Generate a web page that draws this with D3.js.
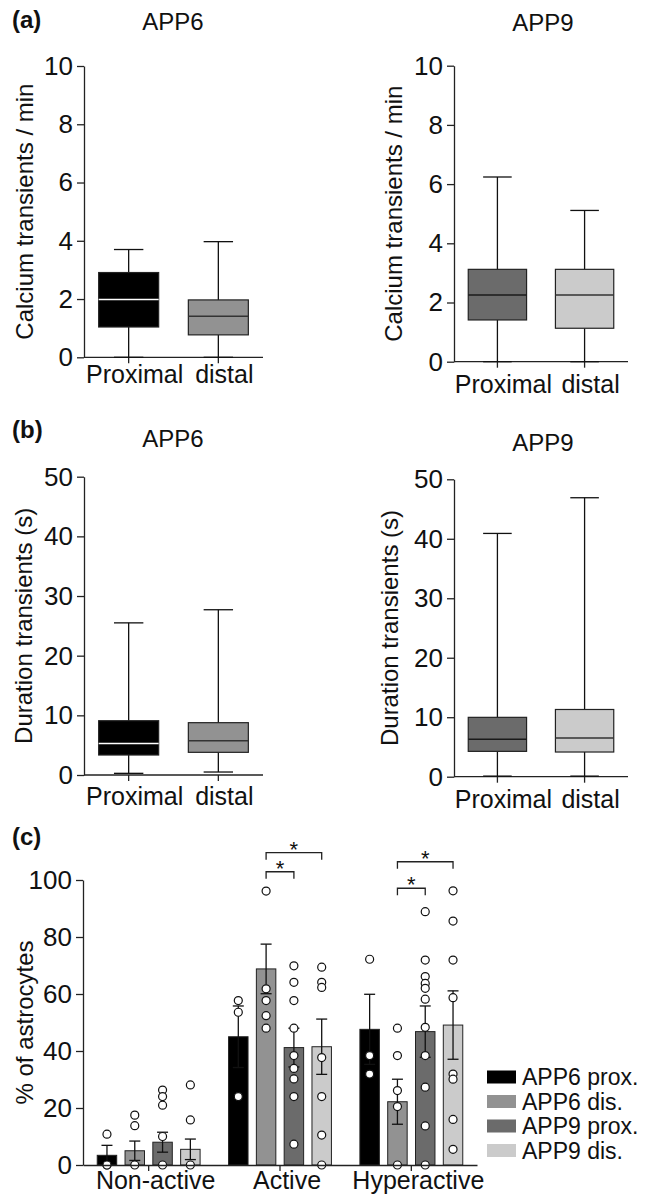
<!DOCTYPE html>
<html><head><meta charset="utf-8">
<script src="https://cdn.jsdelivr.net/npm/d3@7"></script>
<style>
body{margin:0;background:#fff;}
svg{display:block;font-family:"Liberation Sans",Arial,Helvetica,sans-serif;}
</style></head><body>
<svg id="chart" width="649" height="1196"></svg>
<script>
// ---------- DATA ----------
const boxCategories = ["Proximal", "distal"];
// five-number summaries: [min, q1, median, q3, max]
const calciumAPP6 = [[0, 1.04, 1.98, 2.91, 3.70], [0, 0.77, 1.41, 1.97, 3.97]];
const calciumAPP9 = [[0, 1.41, 2.25, 3.12, 6.24], [0, 1.13, 2.25, 3.12, 5.11]];
const durationAPP6 = [[0.28, 3.35, 5.3, 9.1, 25.5], [0.5, 3.8, 5.75, 8.77, 27.7]];
const durationAPP9 = [[0.1, 4.26, 6.28, 9.98, 40.9], [0.1, 4.15, 6.5, 11.3, 46.9]];
const calciumTicks = [0, 2, 4, 6, 8, 10];
const durationTicks = [0, 10, 20, 30, 40, 50];
const percentTicks = [0, 20, 40, 60, 80, 100];

const activityCategories = ["Non-active", "Active", "Hyperactive"];
const groups = ["APP6 prox.", "APP6 dis.", "APP9 prox.", "APP9 dis."];
const meanAPP6prox = [3.4, 45.0, 47.6];
const meanAPP6dis = [5.0, 68.8, 22.2];
const meanAPP9prox = [8.0, 41.2, 46.8];
const meanAPP9dis = [5.5, 41.5, 49.1];
const semAPP6prox = [3.5, 10.8, 12.3];
const semAPP6dis = [3.4, 8.7, 7.9];
const semAPP9prox = [3.5, 6.8, 9.0];
const semAPP9dis = [3.6, 9.7, 12.0];
const ptsAPP6prox = [[10.8, 0, 0], [57.7, 53.6, 24.0], [72.2, 38.4, 31.9]];
const ptsAPP6dis = [[17.5, 13.8, 0], [96.1, 61.8, 57.7, 52.4, 48.0], [48.0, 38.4, 26.1, 20.5, 0]];
const ptsAPP9prox = [[26.3, 24.0, 21.0, 10.0, 0], [69.9, 64.1, 57.7, 48.0, 38.4, 33.9, 30.2, 24.0, 7.3],
  [88.9, 71.9, 66.1, 63.7, 62.0, 58.2, 48.3, 38.4, 27.3, 13.7, 0]];
const ptsAPP9dis = [[28.1, 15.8, 0], [69.4, 64.1, 62.3, 37.7, 24.0, 10.5, 0],
  [96.2, 85.6, 71.9, 58.7, 31.9, 30.1, 16.0, 5.5]];
// significance brackets: category, from group, to group, height (% units)
const sigCats = ["Active", "Active", "Hyperactive", "Hyperactive"];
const sigFrom = ["APP6 dis.", "APP6 dis.", "APP6 dis.", "APP6 dis."];
const sigTo = ["APP9 dis.", "APP9 prox.", "APP9 dis.", "APP9 prox."];
const sigLevel = [109.6, 102.9, 106.4, 97.1];

// ---------- STYLE ----------
const FONT_TICK = 26, FONT_LAB = 24, FONT_XL = 25;
const AX = "#222";
const groupFill = {"APP6 prox.": "#000000", "APP6 dis.": "#929292", "APP9 prox.": "#6b6b6b", "APP9 dis.": "#cbcbcb"};

const svg = d3.select("#chart");

function styleAxis(g) {
  g.selectAll("path.domain").attr("stroke", AX).attr("stroke-width", 1.3);
  g.selectAll(".tick line").attr("stroke", AX).attr("stroke-width", 1.3);
  g.selectAll(".tick text").attr("fill", "#111").attr("font-size", FONT_TICK)
    .attr("font-family", '"Liberation Sans",Arial,sans-serif');
}

function boxPanel(cfg) {
  const g = svg.append("g");
  const x = d3.scaleBand().domain(boxCategories).range([cfg.x0, cfg.x1])
    .paddingInner(0.331).paddingOuter(0.1635);
  const y = d3.scaleLinear().domain([0, cfg.ticks[cfg.ticks.length - 1]]).range([cfg.yBot, cfg.yTop]);

  const ya = g.append("g").attr("transform", `translate(${cfg.x0},0)`)
    .call(d3.axisLeft(y).tickValues(cfg.ticks).tickSize(7).tickPadding(4).tickSizeOuter(0));
  styleAxis(ya);
  const xa = g.append("g").attr("transform", `translate(0,${cfg.yBot})`)
    .call(d3.axisBottom(x).tickSize(6).tickSizeOuter(0));
  styleAxis(xa);
  xa.select("path.domain").attr("d", `M${cfg.x0},0H${cfg.x1}`);
  xa.selectAll(".tick text").attr("font-size", FONT_XL).attr("y", cfg.xLabOff).attr("dy", 0)
    .attr("dx", 6);

  const bw = x.bandwidth();
  cfg.data.forEach((d, i) => {
    const cat = boxCategories[i];
    const cx = x(cat) + bw / 2;
    const [mn, q1, md, q3, mx] = d;
    const capW = bw * 0.49;
    g.append("line").attr("x1", cx).attr("x2", cx).attr("y1", y(mx)).attr("y2", y(q3))
      .attr("stroke", "#111").attr("stroke-width", 1.3);
    g.append("line").attr("x1", cx).attr("x2", cx).attr("y1", y(q1)).attr("y2", y(mn))
      .attr("stroke", "#111").attr("stroke-width", 1.3);
    [mx, mn].forEach(v => g.append("line").attr("x1", cx - capW / 2).attr("x2", cx + capW / 2)
      .attr("y1", y(v)).attr("y2", y(v)).attr("stroke", "#111").attr("stroke-width", 1.3));
    g.append("rect").attr("x", x(cat)).attr("width", bw).attr("y", y(q3)).attr("height", y(q1) - y(q3))
      .attr("fill", cfg.fills[i]).attr("stroke", "#222").attr("stroke-width", 1.2);
    g.append("line").attr("x1", x(cat)).attr("x2", x(cat) + bw).attr("y1", y(md)).attr("y2", y(md))
      .attr("stroke", cfg.medians[i]).attr("stroke-width", 1.5);
  });

  g.append("text").attr("x", cfg.titleX).attr("y", cfg.titleY).attr("text-anchor", "middle")
    .attr("font-size", FONT_LAB).attr("fill", "#111").text(cfg.title);
  g.append("text").attr("transform", `translate(${cfg.labX},${(cfg.yTop + cfg.yBot) / 2}) rotate(-90)`)
    .attr("text-anchor", "middle").attr("font-size", FONT_LAB).attr("fill", "#111").text(cfg.yLabel);
}

const fills6 = [groupFill["APP6 prox."], groupFill["APP6 dis."]];
const fills9 = [groupFill["APP9 prox."], groupFill["APP9 dis."]];
const med6 = ["#ffffff", "#333"], med9 = ["#1a1a1a", "#333"];

boxPanel({x0: 84, x1: 263, yTop: 66, yBot: 357.3, ticks: calciumTicks, data: calciumAPP6, fills: fills6,
  medians: med6, title: "APP6", titleX: 173, titleY: 30, labX: 33, yLabel: "Calcium transients / min", xLabOff: 26});
boxPanel({x0: 454, x1: 628, yTop: 65.7, yBot: 361.7, ticks: calciumTicks, data: calciumAPP9, fills: fills9,
  medians: med9, title: "APP9", titleX: 543, titleY: 31, labX: 402, yLabel: "Calcium transients / min", xLabOff: 31});
boxPanel({x0: 84, x1: 263, yTop: 476.7, yBot: 775, ticks: durationTicks, data: durationAPP6, fills: fills6,
  medians: med6, title: "APP6", titleX: 173, titleY: 447, labX: 32, yLabel: "Duration transients (s)", xLabOff: 30});
boxPanel({x0: 454, x1: 628, yTop: 479.3, yBot: 776.7, ticks: durationTicks, data: durationAPP9, fills: fills9,
  medians: med9, title: "APP9", titleX: 543, titleY: 451, labX: 398, yLabel: "Duration transients (s)", xLabOff: 31});

[["(a)", 12, 28], ["(b)", 12, 438], ["(c)", 12, 845]].forEach(([t, px, py]) =>
  svg.append("text").attr("x", px).attr("y", py).attr("font-size", 24).attr("font-weight", "bold")
    .attr("fill", "#111").text(t));

// ---------- PANEL C ----------
(function () {
  const g = svg.append("g");
  const X0 = 83, X1 = 477, YB = 1165, YT = 880;
  const x0 = d3.scaleBand().domain(activityCategories).range([X0, X1]);
  const x1 = d3.scaleBand().domain(groups).range([-55.6, 55.6]).paddingInner(0.3).paddingOuter(0.15);
  const y = d3.scaleLinear().domain([0, 100]).range([YB, YT]);
  const means = {"APP6 prox.": meanAPP6prox, "APP6 dis.": meanAPP6dis, "APP9 prox.": meanAPP9prox, "APP9 dis.": meanAPP9dis};
  const sems = {"APP6 prox.": semAPP6prox, "APP6 dis.": semAPP6dis, "APP9 prox.": semAPP9prox, "APP9 dis.": semAPP9dis};
  const pts = {"APP6 prox.": ptsAPP6prox, "APP6 dis.": ptsAPP6dis, "APP9 prox.": ptsAPP9prox, "APP9 dis.": ptsAPP9dis};
  const center = (cat, grp) => x0(cat) + x0.bandwidth() / 2 + x1(grp) + x1.bandwidth() / 2;

  const ya = g.append("g").attr("transform", `translate(${X0},0)`)
    .call(d3.axisLeft(y).tickValues(percentTicks).tickSize(7).tickPadding(4).tickSizeOuter(0));
  styleAxis(ya);

  const bw = x1.bandwidth();
  activityCategories.forEach((cat, ci) => {
    groups.forEach(grp => {
      const cx = center(cat, grp);
      const m = means[grp][ci], s = sems[grp][ci];
      g.append("rect").attr("x", cx - bw / 2).attr("width", bw).attr("y", y(m)).attr("height", y(0) - y(m))
        .attr("fill", groupFill[grp]).attr("stroke", "#222").attr("stroke-width", 1);
      const lo = Math.max(0, m - s), hi = m + s;
      g.append("line").attr("x1", cx).attr("x2", cx).attr("y1", y(lo)).attr("y2", y(hi))
        .attr("stroke", "#111").attr("stroke-width", 1.3);
      [lo, hi].forEach(v => g.append("line").attr("x1", cx - 5.5).attr("x2", cx + 5.5)
        .attr("y1", y(v)).attr("y2", y(v)).attr("stroke", "#111").attr("stroke-width", 1.3));
      pts[grp][ci].forEach(v => g.append("circle").attr("cx", cx).attr("cy", y(v)).attr("r", 4)
        .attr("fill", "#fff").attr("stroke", "#111").attr("stroke-width", 1.2));
    });
  });

  const xa = g.append("g").attr("transform", `translate(0,${YB})`)
    .call(d3.axisBottom(x0).tickSize(6).tickSizeOuter(0));
  styleAxis(xa);
  xa.selectAll(".tick text").attr("font-size", FONT_XL).attr("y", 24).attr("dy", 0).attr("dx", 7);

  sigCats.forEach((cat, i) => {
    const xa1 = center(cat, sigFrom[i]), xa2 = center(cat, sigTo[i]);
    const yy = y(sigLevel[i]), leg = 7;
    g.append("path").attr("d", `M${xa1},${yy + leg}V${yy}H${xa2}V${yy + leg}`)
      .attr("fill", "none").attr("stroke", "#222").attr("stroke-width", 1.3);
    g.append("text").attr("x", (xa1 + xa2) / 2).attr("y", yy + 4).attr("text-anchor", "middle")
      .attr("font-size", 22).attr("fill", "#111").text("*");
  });

  g.append("text").attr("transform", `translate(33,${(YB + YT) / 2}) rotate(-90)`)
    .attr("text-anchor", "middle").attr("font-size", FONT_LAB).attr("fill", "#111").text("% of astrocytes");

  const ly = d3.scalePoint().domain(groups).range([1077, 1150.5]);
  groups.forEach(grp => {
    g.append("rect").attr("x", 487).attr("y", ly(grp) - 6.5).attr("width", 29).attr("height", 13)
      .attr("fill", groupFill[grp]);
    g.append("text").attr("x", 522).attr("y", ly(grp) + 8).attr("font-size", 23).attr("fill", "#111").text(grp);
  });
})();
</script>
</body></html>
